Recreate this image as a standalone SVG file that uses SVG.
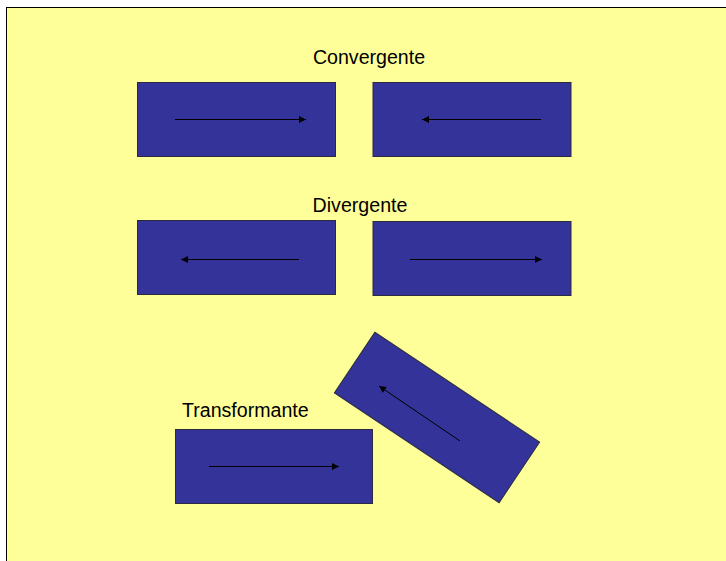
<svg xmlns="http://www.w3.org/2000/svg" width="726" height="561" viewBox="0 0 726 561">
<defs>
<marker id="ah" viewBox="0 0 10 10" refX="10" refY="5" markerWidth="8" markerHeight="7" markerUnits="userSpaceOnUse" orient="auto">
<path d="M0,0 L10,5 L0,10 z" fill="#000"/>
</marker>
</defs>
<style>
.plate{fill:#333399;stroke:#2a2a40;stroke-width:1}
.mv{stroke:#000;stroke-width:1;fill:none;marker-end:url(#ah)}
.lbl{font-family:"Liberation Sans",Arial,sans-serif;font-size:19.6px;fill:#000}
</style>
<rect x="0" y="0" width="726" height="561" fill="#fff"/>
<rect x="6.5" y="7.5" width="725" height="560" fill="#ffff99" stroke="#000" stroke-width="1"/>
<text class="lbl" x="369" y="64" text-anchor="middle">Convergente</text>
<text class="lbl" x="360" y="212" text-anchor="middle">Divergente</text>
<text class="lbl" x="182" y="417">Transformante</text>
<g id="conv-left"><rect class="plate" x="137.5" y="82.5" width="198" height="74"/></g>
<g id="conv-right"><rect class="plate" x="373" y="82.5" width="198" height="74"/></g>
<g id="div-left"><rect class="plate" x="137.5" y="220.5" width="198" height="74"/></g>
<g id="div-right"><rect class="plate" x="373" y="221.5" width="198" height="74"/></g>
<g id="trans-bottom"><rect class="plate" x="175.5" y="429.5" width="197" height="74"/></g>
<g id="trans-rotated"><rect class="plate" x="338" y="381" width="198" height="73" transform="rotate(33.7 437 417.5)"/></g>
<g id="connectors">
<line class="mv" x1="175" y1="119.5" x2="306" y2="119.5"/>
<line class="mv" x1="541" y1="119.5" x2="422" y2="119.5"/>
<line class="mv" x1="299" y1="259.5" x2="181" y2="259.5"/>
<line class="mv" x1="410" y1="259.5" x2="542" y2="259.5"/>
<line class="mv" x1="209" y1="466.5" x2="339" y2="466.5"/>
<line class="mv" x1="460" y1="441" x2="379" y2="386"/>
</g>
</svg>
